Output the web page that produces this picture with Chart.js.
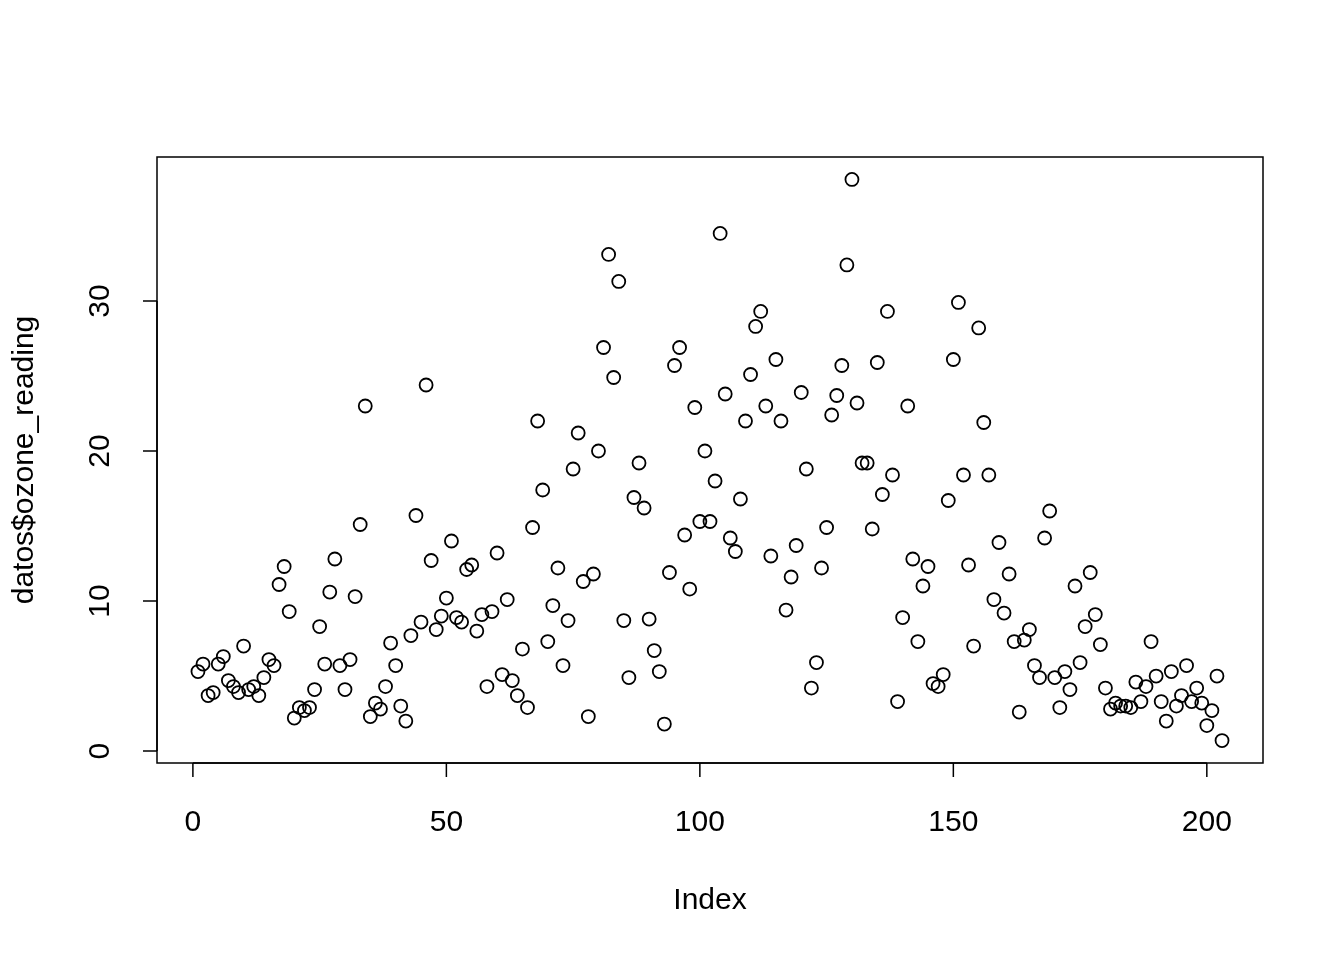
<!DOCTYPE html>
<html>
<head>
<meta charset="utf-8">
<script src="https://cdn.jsdelivr.net/npm/chart.js@4"></script>
<style>
  html, body { margin: 0; padding: 0; background: #ffffff; }
  #wrap { width: 1344px; height: 960px; }
</style>
</head>
<body>
<div id="wrap"><canvas id="ozone-chart" width="1344" height="960"></canvas></div>
<script>
// lecturas de ozono (índice 1..203)
const ozoneReading = [
  5.3, 5.8, 3.7, 3.9, 5.8, 6.3, 4.7, 4.3, 3.9, 7.0,
  4.1, 4.3, 3.7, 4.9, 6.1, 5.7, 11.1, 12.3, 9.3, 2.2,
  2.9, 2.7, 2.9, 4.1, 8.3, 5.8, 10.6, 12.8, 5.7, 4.1,
  6.1, 10.3, 15.1, 23.0, 2.3, 3.2, 2.8, 4.3, 7.2, 5.7,
  3.0, 2.0, 7.7, 15.7, 8.6, 24.4, 12.7, 8.1, 9.0, 10.2,
  14.0, 8.9, 8.6, 12.1, 12.4, 8.0, 9.1, 4.3, 9.3, 13.2,
  5.1, 10.1, 4.7, 3.7, 6.8, 2.9, 14.9, 22.0, 17.4, 7.3,
  9.7, 12.2, 5.7, 8.7, 18.8, 21.2, 11.3, 2.3, 11.8, 20.0,
  26.9, 33.1, 24.9, 31.3, 8.7, 4.9, 16.9, 19.2, 16.2, 8.8,
  6.7, 5.3, 1.8, 11.9, 25.7, 26.9, 14.4, 10.8, 22.9, 15.3,
  20.0, 15.3, 18.0, 34.5, 23.8, 14.2, 13.3, 16.8, 22.0, 25.1,
  28.3, 29.3, 23.0, 13.0, 26.1, 22.0, 9.4, 11.6, 13.7, 23.9,
  18.8, 4.2, 5.9, 12.2, 14.9, 22.4, 23.7, 25.7, 32.4, 38.1,
  23.2, 19.2, 19.2, 14.8, 25.9, 17.1, 29.3, 18.4, 3.3, 8.9,
  23.0, 12.8, 7.3, 11.0, 12.3, 4.5, 4.3, 5.1, 16.7, 26.1,
  29.9, 18.4, 12.4, 7.0, 28.2, 21.9, 18.4, 10.1, 13.9, 9.2,
  11.8, 7.3, 2.6, 7.4, 8.1, 5.7, 4.9, 14.2, 16.0, 4.9,
  2.9, 5.3, 4.1, 11.0, 5.9, 8.3, 11.9, 9.1, 7.1, 4.2,
  2.8, 3.2, 3.0, 3.0, 2.9, 4.6, 3.3, 4.3, 7.3, 5.0,
  3.3, 2.0, 5.3, 3.0, 3.7, 5.7, 3.3, 4.2, 3.2, 1.7,
  2.7, 5.0, 0.7
];
const indexTicks = [0, 50, 100, 150, 200];
const readingTicks = [0, 10, 20, 30];
const xTitle = 'Index';
const yTitle = 'datos$ozone_reading';

// límites al estilo de R (rango + 4%)
const nPts = ozoneReading.length;
const yMin = Math.min(...ozoneReading);
const yMax = Math.max(...ozoneReading);
const xPad = (nPts - 1) * 0.04;
const yPad = (yMax - yMin) * 0.04;

const puntos = ozoneReading.map((v, i) => ({ x: i + 1, y: v }));

const FONT = '30px "Liberation Sans", Arial, sans-serif';

// dibuja caja, ejes y textos como lo hace plot() de R
const ejesR = {
    id: 'ejesR',
    afterDraw(chart) {
        const ctx = chart.ctx;
        const area = chart.chartArea;
        const sx = chart.scales.x;
        const sy = chart.scales.y;
        ctx.save();
        ctx.strokeStyle = '#000';
        ctx.fillStyle = '#000';
        ctx.lineWidth = 1.5;

        // caja
        ctx.strokeRect(area.left, area.top, area.right - area.left, area.bottom - area.top);

        // eje x
        const x0 = sx.getPixelForValue(indexTicks[0]);
        const x1 = sx.getPixelForValue(indexTicks[indexTicks.length - 1]);
        ctx.beginPath();
        ctx.moveTo(x0, area.bottom);
        ctx.lineTo(x1, area.bottom);
        indexTicks.forEach(t => {
            const px = sx.getPixelForValue(t);
            ctx.moveTo(px, area.bottom);
            ctx.lineTo(px, area.bottom + 14);
        });
        ctx.stroke();

        // eje y
        const y0 = sy.getPixelForValue(readingTicks[0]);
        const y1 = sy.getPixelForValue(readingTicks[readingTicks.length - 1]);
        ctx.beginPath();
        ctx.moveTo(area.left, y0);
        ctx.lineTo(area.left, y1);
        readingTicks.forEach(t => {
            const py = sy.getPixelForValue(t);
            ctx.moveTo(area.left, py);
            ctx.lineTo(area.left - 14, py);
        });
        ctx.stroke();

        ctx.font = FONT;
        ctx.textAlign = 'center';
        ctx.textBaseline = 'middle';
        indexTicks.forEach(t => {
            ctx.fillText(String(t), sx.getPixelForValue(t), area.bottom + 60);
        });
        readingTicks.forEach(t => {
            ctx.save();
            ctx.translate(area.left - 56, sy.getPixelForValue(t));
            ctx.rotate(-Math.PI / 2);
            ctx.fillText(String(t), 0, 0);
            ctx.restore();
        });

        // títulos
        ctx.fillText(xTitle, (area.left + area.right) / 2, area.bottom + 138);
        ctx.save();
        ctx.translate(area.left - 132, (area.top + area.bottom) / 2);
        ctx.rotate(-Math.PI / 2);
        ctx.fillText(yTitle, 0, 0);
        ctx.restore();

        ctx.restore();
    }
};

const ctx = document.getElementById('ozone-chart').getContext('2d');
new Chart(ctx, {
    type: 'scatter',
    data: {
        datasets: [{
            label: 'ozone_reading',
            data: puntos,
            pointRadius: 6.5,
            pointHoverRadius: 6.5,
            pointBorderWidth: 1.8,
            borderColor: '#000000',
            backgroundColor: 'rgba(0,0,0,0)',
            pointBackgroundColor: 'rgba(0,0,0,0)'
        }]
    },
    options: {
        responsive: false,
        animation: false,
        events: [],
        layout: {
            padding: { left: 157, right: 81, top: 157, bottom: 197 }
        },
        plugins: {
            legend: { display: false },
            tooltip: { enabled: false }
        },
        scales: {
            x: {
                type: 'linear',
                display: false,
                min: 1 - xPad,
                max: nPts + xPad
            },
            y: {
                type: 'linear',
                display: false,
                min: yMin - yPad,
                max: yMax + yPad
            }
        }
    },
    plugins: [ejesR]
});
</script>
</body>
</html>
